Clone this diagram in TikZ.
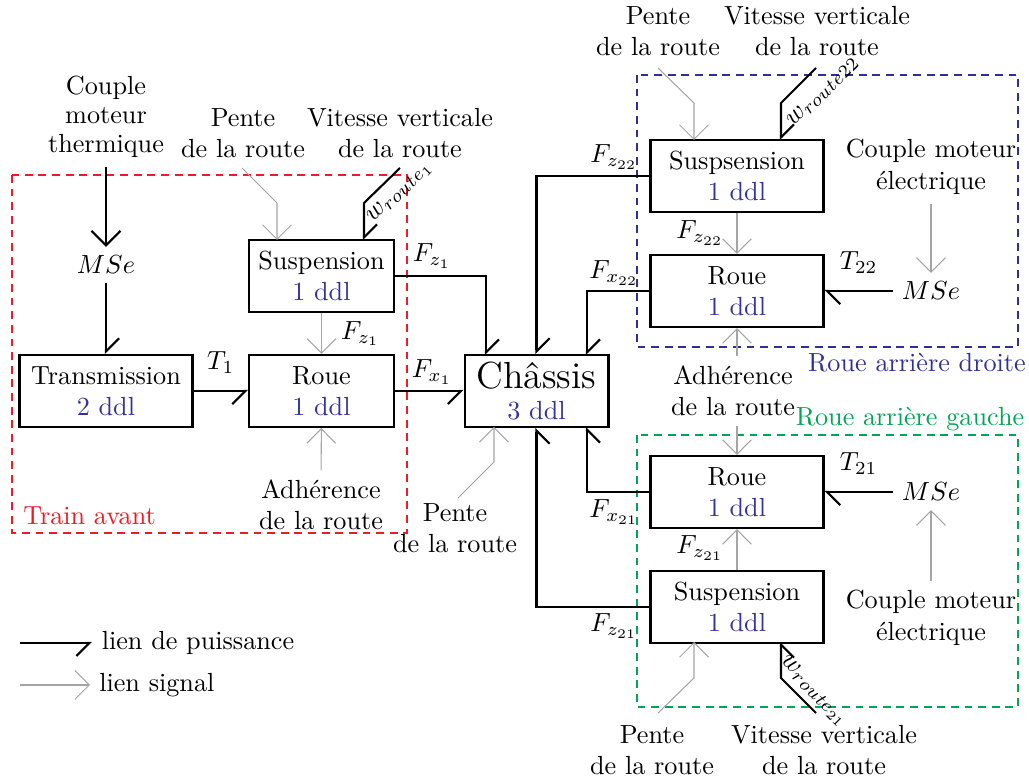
\documentclass[tikz,border=0pt]{standalone}
\usepackage{xcolor,amsmath,tikz}
\usetikzlibrary{arrows.meta}
\definecolor{ddlBlue}{RGB}{51, 51, 153}
\definecolor{avRed}{RGB}{237, 28, 36}
\definecolor{adBlue}{RGB}{46, 49, 146}
\definecolor{agGreen}{RGB}{0, 166, 81}
\definecolor{sigGray}{RGB}{165, 165, 165}

\begin{document}
\begin{tikzpicture}[x=0.01341cm, y=-0.01341cm,
		bloc/.style={draw, thick, align=center, minimum height=0.966cm, inner sep=2pt},
		txt/.style={align=center},
		bondl/.style={thick, -{Straight Barb[left, length=5pt, width=10pt]}},
		bondr/.style={thick, -{Straight Barb[right, length=5pt, width=10pt]}},
		signal/.style={sigGray, -{Straight Barb[length=5.5pt, width=11pt]}},
		zone/.style={thick, dash pattern=on 3pt off 2.2pt}]
				\useasboundingbox (0,0) rectangle (1029,781);

				\draw[zone, avRed] (12,175) rectangle (407,533);
				\draw[zone, adBlue] (637,75) rectangle (1018,347);
				\draw[zone, agGreen] (637,435) rectangle (1018,707);
				\node[anchor=west, text=avRed] (trainav) at (14,516) {Train avant};
				\node[text=adBlue] (rad) at (917,363) {Roue arri\`ere droite};
				\node[text=agGreen] (rag) at (910,419) {Roue arri\`ere gauche};

				\draw (106,391) node[bloc, minimum width=2.32cm] (trans) {Transmission\\\textcolor{ddlBlue}{2 ddl}};
				\draw (321.5,391) node[bloc, minimum width=1.944cm] (roueav) {Roue\\\textcolor{ddlBlue}{1 ddl}};
				\draw (321.5,276) node[bloc, minimum width=1.944cm] (suspav) {Suspension\\\textcolor{ddlBlue}{1 ddl}};
				\draw (536.5,391) node[bloc, minimum width=1.93cm] (chassis) {{\Large Ch\^assis}\\\textcolor{ddlBlue}{3 ddl}};
				\draw (737,176) node[bloc, minimum width=2.32cm] (susp22) {Suspsension\\\textcolor{ddlBlue}{1 ddl}};
				\draw (737,291) node[bloc, minimum width=2.32cm] (roue22) {Roue\\\textcolor{ddlBlue}{1 ddl}};
				\draw (737,492) node[bloc, minimum width=2.32cm] (roue21) {Roue\\\textcolor{ddlBlue}{1 ddl}};
				\draw (737,607) node[bloc, minimum width=2.32cm] (susp21) {Suspension\\\textcolor{ddlBlue}{1 ddl}};

				\draw (106,117) node[txt] (couple) {Couple\\[-1pt]moteur\\[-1pt]thermique};
				\draw (106,265) node (mse1) {$MSe$};
				\draw (931,291) node (mse22) {$MSe$};
				\draw (931,492) node (mse21) {$MSe$};
				\draw (243,133) node[txt] (penteav) {Pente\\de la route};
				\draw (400,133) node[txt] (vitav) {Vitesse verticale\\de la route};
				\draw (321,505) node[txt] (adhav) {Adh\'erence\\de la route};
				\draw (455,528) node[txt] (pentech) {Pente\\de la route};
				\draw (658,31) node[txt] (pentear) {Pente\\de la route};
				\draw (817,31) node[txt] (vitar) {Vitesse verticale\\de la route};
				\draw (931,167) node[txt] (cme22) {Couple moteur\\\'electrique};
				\draw (733,391) node[txt] (adhar) {Adh\'erence\\de la route};
				\draw (931,618) node[txt] (cme21) {Couple moteur\\\'electrique};
				\draw (652,750) node[txt] (penteag) {Pente\\de la route};
				\draw (824,750) node[txt] (vitag) {Vitesse verticale\\de la route};

				\coordinate (pav) at (242,168);
				\coordinate (vav) at (400,168);
				\coordinate (pch) at (458,498);
				\coordinate (par) at (658,68);
				\coordinate (var) at (816,68);
				\coordinate (pag) at (658,713);
				\coordinate (vag) at (816,713);
				\coordinate (cz1) at (486,355);
				\coordinate (cx22) at (587,355);
				\coordinate (cx21) at (587,427);
				\coordinate (lp) at (20,643);
				\coordinate (ls) at (20,685);

				\draw[thick, -{Straight Barb[length=5.5pt, width=11pt]}] (couple) -- (mse1);
				\draw[bondl] (mse1) -- (trans);
				\draw[bondr] (trans) -- (roueav) node[midway, above=3pt] {$T_1$};
				\draw[signal] (suspav) -- (roueav) node[midway, right=4pt, text=black] {$F_{z_1}$};
				\draw[signal] (adhav) -- (roueav);
				\draw[signal] (pav) -- ++(35,35) -- ++(0,37);
				\draw[bondl] (vav) -- ++(-36,35) -- ++(0,37);
				\draw (400,192) node[rotate=45] (wav) {$w_{route_1}$};
				\draw[bondl] (suspav.east) -| (cz1);
				\draw[bondr] (roueav) -- (chassis);
				\draw[signal] (pch) -- ++(36,-36) -- ++(0,-35);
				\draw (432,256) node (lfz1) {$F_{z_1}$};
				\draw (432,372) node (lfx1) {$F_{x_1}$};

				\draw[bondl] (susp22.west) -| (chassis.north);
				\draw[bondl] (roue22.west) -| (cx22);
				\draw[bondr] (roue21.west) -| (cx21);
				\draw[bondr] (susp21.west) -| (chassis.south);
				\draw (614,157) node (lfz22) {$F_{z_{22}}$};
				\draw (614,273) node (lfx22) {$F_{x_{22}}$};
				\draw (614,512) node (lfx21) {$F_{x_{21}}$};
				\draw (614,626) node (lfz21) {$F_{z_{21}}$};

				\draw[signal] (susp22) -- (roue22);
				\draw (700,233) node (lsz22) {$F_{z_{22}}$};
				\draw[signal] (susp21) -- (roue21);
				\draw (700,548) node (lsz21) {$F_{z_{21}}$};
				\draw[signal] (adhar.north -| roue22) -- (roue22);
				\draw[signal] (adhar.south -| roue21) -- (roue21);
				\draw[signal] (cme22) -- (mse22);
				\draw[signal] (cme21) -- (mse21);
				\draw[bondl] (mse22) -- (roue22) node[midway, above=3pt] {$T_{22}$};
				\draw[bondl] (mse21) -- (roue21) node[midway, above=3pt] {$T_{21}$};

				\draw[signal] (par) -- ++(36,35) -- ++(0,37);
				\draw[bondl] (var) -- ++(-35,35) -- ++(0,37);
				\draw (823,91) node[rotate=45] (war) {$w_{route22}$};
				\draw[signal] (pag) -- ++(36,-35) -- ++(0,-36);
				\draw[bondr] (vag) -- ++(-35,-35) -- ++(0,-36);
				\draw (814,692) node[rotate=-45] (wag) {$w_{route_{21}}$};

				\draw[bondr] (lp) -- ++(72,0) node[right] {lien de puissance};
				\draw[signal] (ls) -- ++(70,0) node[right, text=black] {lien signal};
			\end{tikzpicture}
\end{document}
